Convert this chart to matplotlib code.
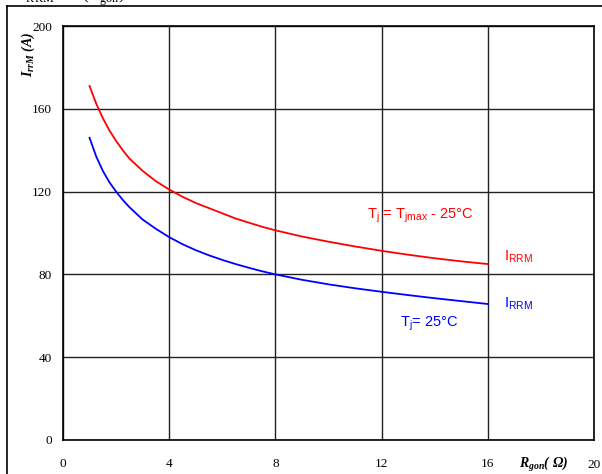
import matplotlib
matplotlib.use('Agg')
import matplotlib.pyplot as plt
from matplotlib.lines import Line2D

# values
rg = [1, 1.25, 1.5, 1.75, 2, 2.25, 2.5, 3, 3.5, 4, 4.5, 5, 5.5, 6, 6.5, 7, 7.5, 8,
      9, 10, 11, 12, 13, 14, 15, 16]
irrm_hot = [171, 162.5, 155.5, 149.5, 144.5, 140, 136, 130, 125, 121, 117.5, 114.5, 112,
            109.5, 107, 105, 103, 101.3, 98.3, 95.8, 93.5, 91.4, 89.5, 87.8, 86.3, 85]
irrm_25 = [146, 137, 130, 124.5, 120, 116, 112.5, 106.5, 102, 98, 94.6, 91.7, 89.2,
           87, 85, 83.2, 81.5, 80, 77.4, 75.2, 73.3, 71.6, 70, 68.5, 67.1, 65.7]
xticks = [0, 4, 8, 12, 16, 20]
yticks = [0, 40, 80, 120, 160, 200]

plt.rcParams['mathtext.fontset'] = 'custom'
plt.rcParams['mathtext.rm'] = 'Liberation Serif'

fig = plt.figure(figsize=(6.02, 4.74), dpi=100)
ax = fig.add_axes([63/602, 34/474, 531/602, 414/474])

ax.plot(rg, irrm_hot, color='red', lw=1.3)
ax.plot(rg, irrm_25, color='blue', lw=1.3)

ax.set_xlim(0, 20)
ax.set_ylim(0, 200)
ax.set_xticks(xticks)
ax.set_yticks(yticks)
ax.set_xticklabels(['0', '4', '8', '12', '16', ''])
ax.grid(True, color='#222222', lw=1.0)
ax.tick_params(length=0, labelsize=9.5)
ax.tick_params(axis='x', pad=13)
ax.tick_params(axis='y', pad=8)
for lab in ax.get_xticklabels() + ax.get_yticklabels():
    lab.set_fontfamily('Liberation Serif')
for s in ax.spines.values():
    s.set_linewidth(1.2)

# x axis label sits in the tick row, before the last tick
ax.text(18.1, -12.0, r'R$_{\mathregular{gon}}$( Ω)', fontsize=10, fontweight='bold',
        fontstyle='italic', family='Liberation Serif', ha='center', va='center', clip_on=False)
ax.text(20, -12.0, '20', fontsize=9.5, family='Liberation Serif', ha='center', va='center', clip_on=False)

fig.text(28/602, 1 - 54/474, r'I$_{\mathregular{rrM}}$ (A)', rotation=90, fontsize=10,
         fontweight='bold', fontstyle='italic', family='Liberation Serif', ha='center', va='center')

# annotations
ax.text(11.45, 108.5, r'T$_{\mathregular{j}}$ = T$_{\mathregular{jmax}}$ - 25°C', color='red',
        fontsize=10.5, family='Liberation Sans', va='center')
ax.text(16.6, 88.5, r'I$_{\mathregular{RRM}}$', color='red', fontsize=10.5,
        family='Liberation Sans', va='center')
ax.text(16.6, 66, r'I$_{\mathregular{RRM}}$', color='blue', fontsize=10.5,
        family='Liberation Sans', va='center')
ax.text(12.7, 56, r'T$_{\mathregular{j}}$= 25°C', color='blue', fontsize=10.5,
        family='Liberation Sans', va='center')

# outer frame and clipped title
fig.add_artist(Line2D([7/602, 7/602], [0, 1 - 6/474], color='black', lw=1.2))
fig.add_artist(Line2D([7/602, 1], [1 - 6/474, 1 - 6/474], color='black', lw=1.2))
fig.text(20/602, 1 - 0/474, r'I$_{\mathregular{RRM}}$ = f (R$_{\mathregular{gon}}$)', fontsize=12.5,
         family='Liberation Serif', va='baseline')

fig.savefig('out.png', dpi=100)
